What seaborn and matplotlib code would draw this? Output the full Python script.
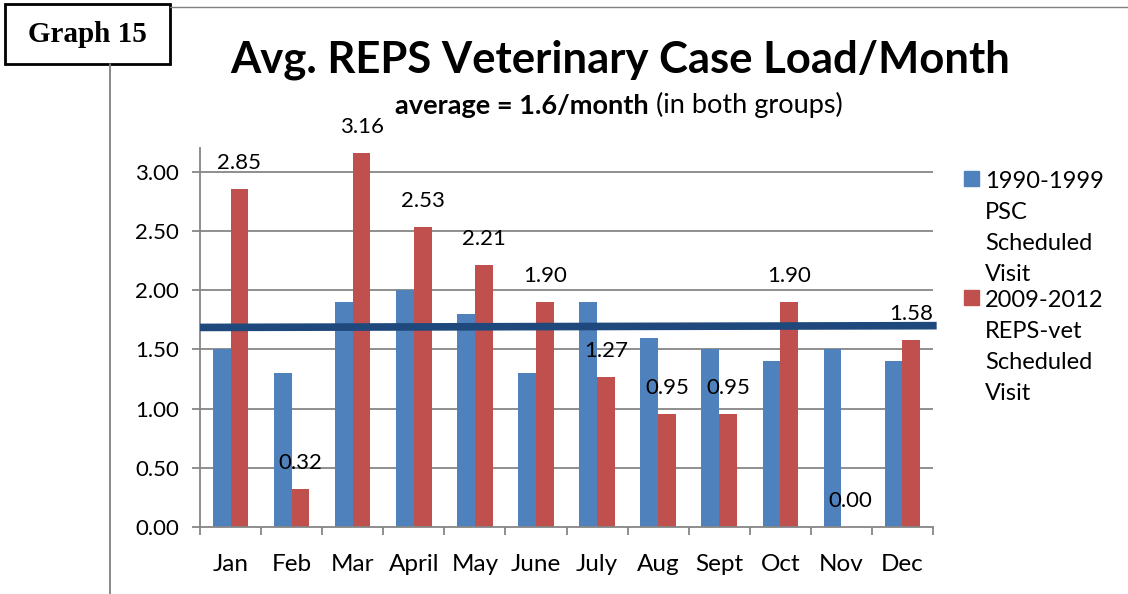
import matplotlib
matplotlib.use("Agg")
import matplotlib.pyplot as plt
import seaborn as sns
import pandas as pd
from matplotlib.patches import Rectangle
from matplotlib.lines import Line2D

# ---------------- data ----------------
months = ["Jan", "Feb", "Mar", "April", "May", "June", "July", "Aug", "Sept", "Oct", "Nov", "Dec"]
psc_1990_1999 = [1.5, 1.3, 1.9, 2.0, 1.8, 1.3, 1.9, 1.6, 1.5, 1.4, 1.5, 1.4]
reps_2009_2012 = [2.85, 0.32, 3.16, 2.53, 2.21, 1.90, 1.27, 0.95, 0.95, 1.90, 0.00, 1.58]
series_names = ["1990-1999\nPSC\nScheduled\nVisit", "2009-2012\nREPS-vet\nScheduled\nVisit"]
avg_line_values = [1.685, 1.70]   # hand-drawn average line (left end, right end)
y_ticks = [0.0, 0.5, 1.0, 1.5, 2.0, 2.5, 3.0]

title = "Avg. REPS Veterinary Case Load/Month"
subtitle_bold = "average = 1.6/month"
subtitle_regular = " (in both groups)"
graph_label = "Graph 15"

colors = ["#4F81BD", "#C0504D"]
line_color = "#1F497D"
grid_color = "#868686"

df = pd.DataFrame({
    "month": months * 2,
    "value": psc_1990_1999 + reps_2009_2012,
    "series": [series_names[0]] * len(months) + [series_names[1]] * len(months),
})

# ---------------- figure ----------------
W, H = 1128, 594
sns.set_theme(style="white")
plt.rcParams["font.family"] = ["Lato", "DejaVu Sans"]

fig = plt.figure(figsize=(W / 100, H / 100), dpi=100)

def fx(px):
    return px / W

def fy(py):
    return 1 - py / H

ax = fig.add_axes([fx(200), fy(527), fx(933) - fx(200), fy(148) - fy(527)])

bar_width = 0.58
sns.barplot(data=df, x="month", y="value", hue="series", palette=colors,
            width=bar_width, linewidth=0, saturation=1, ax=ax, legend=False, zorder=2)

ax.set_ylim(0, 3.2)
ax.set_xlim(-0.5, len(months) - 0.5)
ax.set_yticks(y_ticks)
ax.set_yticklabels([f"{t:.2f}" for t in y_ticks])
ax.set_xlabel("")
ax.set_ylabel("")

for t in y_ticks[1:]:
    ax.axhline(t, color=grid_color, lw=1.3, zorder=1)

for s in ["top", "right"]:
    ax.spines[s].set_visible(False)
for s in ["left", "bottom"]:
    ax.spines[s].set_color(grid_color)
    ax.spines[s].set_linewidth(1.3)

ax.tick_params(axis="y", which="major", direction="out", length=6, width=1.3,
               color=grid_color, labelsize=16, pad=9, left=True)
ax.tick_params(axis="x", which="major", length=0, labelsize=17.5, pad=19.5)
ax.set_xticks(range(len(months)), minor=False)
ax.set_xticks([i - 0.5 for i in range(len(months) + 1)], minor=True)
ax.tick_params(axis="x", which="minor", direction="out", length=6, width=1.3,
               color=grid_color, bottom=True)
for lab in ax.get_xticklabels() + ax.get_yticklabels():
    lab.set_color("black")

# average line
ax.plot([-0.5, len(months) - 0.44], avg_line_values, color=line_color, lw=5.5,
        solid_capstyle="butt", zorder=5, clip_on=False)

# data labels for the REPS series
for i, v in enumerate(reps_2009_2012):
    ax.annotate(f"{v:.2f}", xy=(i + bar_width / 4, v), xytext=(0, 26),
                textcoords="offset pixels", ha="center", va="center",
                fontsize=16, color="black", zorder=6)

# titles
fig.text(fx(620), fy(73), title, ha="center", va="baseline", fontsize=31.4,
         fontweight="bold", color="black")
renderer = fig.canvas.get_renderer()
sb = fig.text(fx(395), fy(113.5), subtitle_bold, ha="left", va="baseline",
              fontsize=19.5, fontweight="bold", color="black")
bb = sb.get_window_extent(renderer)
fig.text(bb.x1 / W, fy(113.5), subtitle_regular, ha="left", va="baseline",
         fontsize=19.5, color="black")

# manual legend
entry_baselines = [188, 307]
for k, name in enumerate(series_names):
    y0 = entry_baselines[k]
    fig.patches.append(Rectangle((fx(964), fy(y0 - 2)), fx(15), fy(0) - fy(15),
                                 transform=fig.transFigure, color=colors[k]))
    for j, line in enumerate(name.split("\n")):
        fig.text(fx(985), fy(y0 + 31 * j), line, ha="left", va="baseline",
                 fontsize=17, color="black")

# frame decorations
fig.patches.append(Rectangle((fx(5), fy(64)), fx(165), fy(4) - fy(64),
                             transform=fig.transFigure, fill=False,
                             edgecolor="black", lw=2))
fig.text(fx(87), fy(42), graph_label, ha="center", va="baseline", fontsize=21,
         fontweight="bold", family="Liberation Serif", color="black")
fig.lines.append(Line2D([fx(170), 1], [fy(7), fy(7)], transform=fig.transFigure,
                        color="#808080", lw=1))
fig.lines.append(Line2D([fx(110), fx(110)], [fy(64), 0], transform=fig.transFigure,
                        color="#808080", lw=1.3))

fig.savefig("out.png", dpi=100)
